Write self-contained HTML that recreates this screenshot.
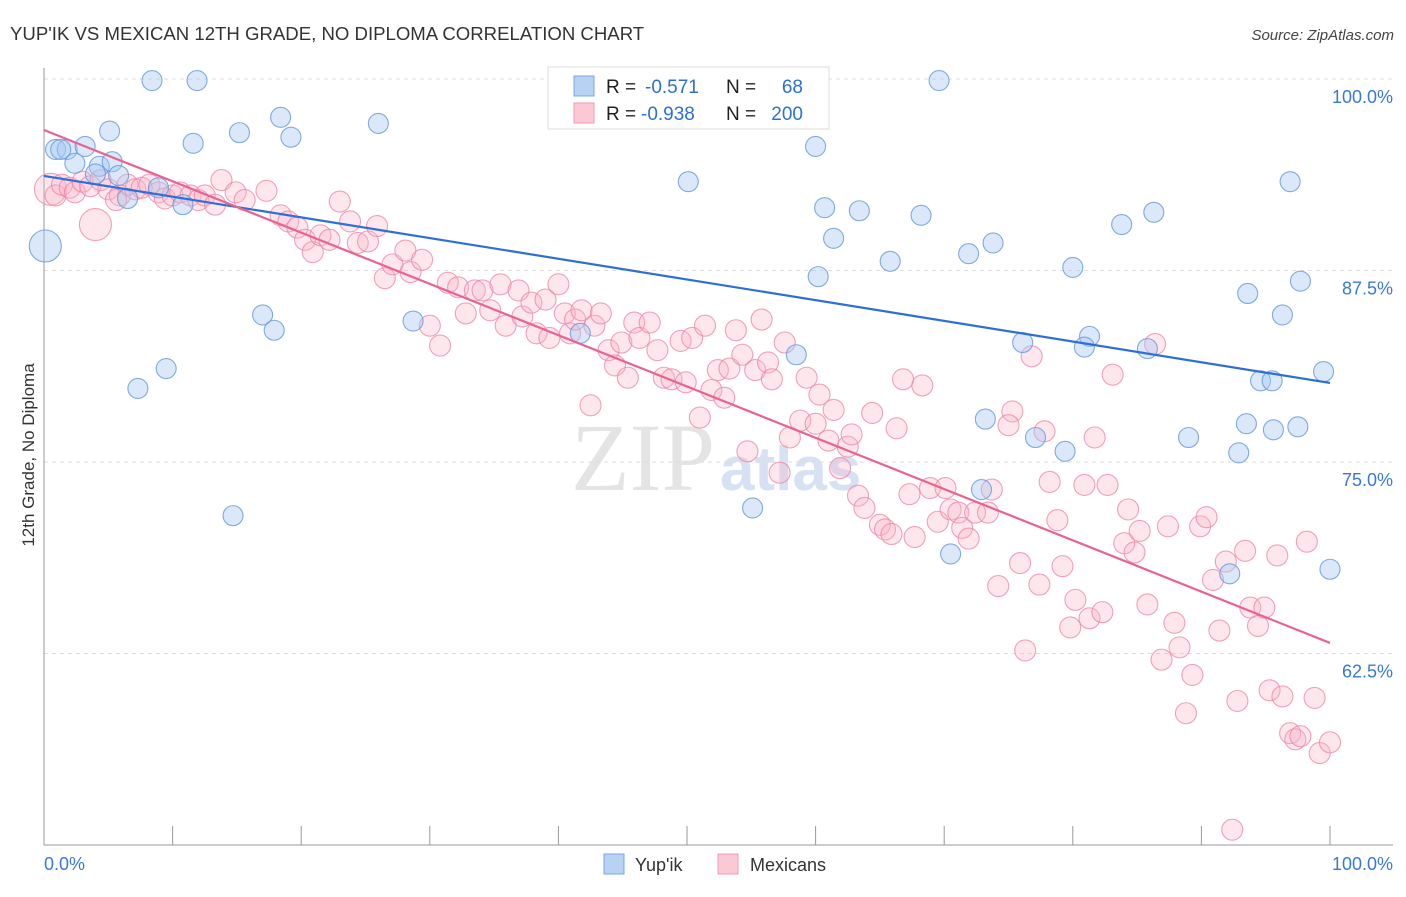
<!DOCTYPE html>
<html><head><meta charset="utf-8"><style>
body{margin:0;background:#fff;font-family:"Liberation Sans",sans-serif}
svg text{font-family:"Liberation Sans",sans-serif}
</style></head><body>
<svg id="chart" width="1406" height="892">
<text x="10" y="40" font-size="18.6" fill="#333">YUP'IK VS MEXICAN 12TH GRADE, NO DIPLOMA CORRELATION CHART</text>
<text x="1394" y="40" font-size="15" fill="#444" font-style="italic" text-anchor="end">Source: ZipAtlas.com</text>
<text x="0" y="0" transform="translate(34,455) rotate(-90)" font-size="17" fill="#333" text-anchor="middle">12th Grade, No Diploma</text>
<g><text x="715" y="490" font-size="96" fill="#e4e4e4" text-anchor="end" style="font-family:'Liberation Serif',serif">ZIP</text><text x="720" y="490" font-size="62" fill="#d6e2f3" font-weight="bold">atlas</text></g>
<g id="grid"></g><g id="axes"></g><g id="pts"></g><g id="trends"></g>
<g>
<rect x="548" y="67" width="281" height="62" fill="#fff" stroke="#ddd"/>
<rect x="574" y="76" width="20" height="20" fill="#b8d2f4" stroke="#7aa7e4"/>
<rect x="574" y="103" width="20" height="20" fill="#fbc8d6" stroke="#f09ab2"/>
<text x="606" y="93" font-size="19" fill="#222">R = </text><text x="645" y="93" font-size="19" fill="#2d6fd6">-0.571</text><text x="726" y="93" font-size="19" fill="#222">N = </text><text x="803" y="93" font-size="19" fill="#2d6fd6" text-anchor="end">68</text>
<text x="606" y="120" font-size="19" fill="#222">R = </text><text x="641" y="120" font-size="19" fill="#2d6fd6">-0.938</text><text x="726" y="120" font-size="19" fill="#222">N = </text><text x="803" y="120" font-size="19" fill="#2d6fd6" text-anchor="end">200</text>
</g>
<g>
<rect x="604" y="854" width="20" height="20" fill="#b8d2f4" stroke="#7aa7e4"/>
<text x="635" y="871" font-size="18" fill="#333">Yup'ik</text>
<rect x="718" y="854" width="20" height="20" fill="#fbc8d6" stroke="#f09ab2"/>
<text x="750" y="871" font-size="18" fill="#333">Mexicans</text>
</g>
</svg>
<script>
const yTicks=[100,87.5,75,62.5];
const yTickLabels=["100.0%","87.5%","75.0%","62.5%"];
const xTickLabels=["0.0%","100.0%"];
const blueX=[8.4,11.9,69.6,5.1,15.2,18.4,19.2,26.0,11.6,0.9,1.8,3.2,2.4,4.3,5.3,4.0,5.8,6.5,8.9,10.8,60.0,50.1,96.9,60.7,63.4,68.2,86.3,83.8,61.4,73.8,71.9,65.8,60.2,80.0,97.7,93.6,96.3,17.0,17.9,28.7,41.7,76.1,81.3,80.9,85.8,58.5,9.5,7.3,94.6,95.5,99.5,73.2,93.5,95.6,97.5,77.1,89.0,79.4,92.9,14.7,55.1,72.9,70.5,92.2,100,0.1,1.3];
const blueY=[99.9,99.9,99.9,96.6,96.5,97.5,96.2,97.1,95.8,95.4,95.4,95.6,94.5,94.3,94.6,93.8,93.7,92.2,92.9,91.8,95.6,93.3,93.3,91.6,91.4,91.1,91.3,90.5,89.6,89.3,88.6,88.1,87.1,87.7,86.8,86.0,84.6,84.6,83.6,84.2,83.4,82.8,83.2,82.5,82.4,82.0,81.1,79.8,80.3,80.3,80.9,77.8,77.5,77.1,77.3,76.6,76.6,75.7,75.6,71.5,72.0,73.2,69.0,67.7,68.0,89.1,95.4];
const pinkX=[0.5,0.9,1.4,2.0,2.4,3.0,3.6,4.4,5.0,5.9,6.5,7.1,7.6,8.2,8.9,9.4,10.0,10.6,11.4,12.0,12.5,13.3,13.8,14.9,15.6,17.3,4.0,5.6,18.4,19.0,19.7,20.3,20.9,21.5,22.2,23.0,23.8,24.4,25.2,25.9,26.5,27.1,28.1,28.5,29.4,30.0,30.8,31.4,32.2,32.8,33.5,34.1,34.7,35.5,35.9,36.9,37.2,37.9,38.3,39.0,39.3,40.0,40.5,40.9,41.3,41.8,42.5,42.8,43.3,43.9,44.4,44.9,45.4,45.9,46.3,47.1,47.7,48.2,48.8,49.5,49.9,50.4,51.0,51.4,51.9,52.4,52.9,53.3,53.8,54.3,54.7,55.3,55.8,56.3,56.6,57.2,57.6,58.0,58.8,59.3,60.0,60.3,61.0,61.4,61.9,62.5,62.8,63.3,63.8,64.4,65.0,65.4,65.9,66.3,66.8,67.3,67.7,68.3,68.9,69.5,70.1,70.5,71.1,71.4,71.9,72.4,73.4,73.7,74.2,75.3,75.9,76.3,76.8,77.4,77.8,78.2,78.8,79.2,79.8,80.2,80.9,81.3,81.7,82.3,82.7,83.1,84.0,84.3,84.8,85.2,85.8,86.4,86.9,87.4,87.9,88.3,88.8,89.3,89.9,90.4,90.9,91.4,91.9,92.4,92.8,93.4,93.8,94.4,94.9,95.3,95.9,96.3,96.9,97.3,97.7,98.2,98.8,99.2,100,75.0];
const pinkY=[92.8,92.4,93.1,92.9,92.6,93.3,93.0,93.4,92.8,92.4,93.1,92.8,92.9,93.1,92.6,92.2,92.4,92.6,92.4,92.1,92.4,91.8,93.4,92.6,92.1,92.7,90.5,92.1,91.1,90.7,90.3,89.5,88.7,89.8,89.5,92.0,90.7,89.3,89.4,90.4,87.0,87.9,88.8,87.4,88.2,83.9,82.6,86.7,86.4,84.7,86.2,86.2,84.9,86.6,83.9,86.2,84.5,85.4,83.4,85.6,83.1,86.6,84.7,83.4,84.3,84.9,78.7,83.9,84.7,82.3,81.3,82.8,80.5,84.1,83.1,84.1,82.3,80.5,80.4,82.9,80.2,83.1,77.9,83.9,79.7,81.0,79.2,81.1,83.6,82.0,75.7,81.0,84.3,81.5,80.4,74.3,82.8,76.6,77.7,80.5,77.5,79.4,76.4,78.4,74.6,76.0,76.8,72.8,72.0,78.2,70.9,70.6,70.3,77.2,80.4,72.9,70.1,80.0,73.3,71.1,73.3,71.9,71.7,70.7,70.0,71.7,71.7,73.2,66.9,78.3,68.4,62.7,81.9,67.0,77.0,73.7,71.2,68.2,64.2,66.0,73.5,64.8,76.6,65.2,73.5,80.7,69.7,71.9,69.1,70.5,65.7,82.7,62.1,70.8,64.5,62.9,58.6,61.1,70.8,71.4,67.3,64.0,68.5,51.0,59.4,69.2,65.5,64.3,65.5,60.1,68.9,59.7,57.3,56.9,57.1,69.8,59.6,56.0,56.7,77.4];
const blueTrend=[93.67,80.16];
const pinkTrend=[96.67,63.19];
const NS="http://www.w3.org/2000/svg";
const X0=44,X1=1330,Y100=79,PX=15.32;
const sx=v=>X0+(X1-X0)*v/100;
const sy=v=>Y100+(100-v)*PX;
function mk(t,a,p){const e=document.createElementNS(NS,t);for(const k in a)e.setAttribute(k,a[k]);p.appendChild(e);return e;}
const grid=document.getElementById('grid'),axes=document.getElementById('axes'),pts=document.getElementById('pts'),tr=document.getElementById('trends');
yTicks.forEach((v,i)=>{
 const l=mk('line',{x1:44,x2:1393,y1:sy(v),y2:sy(v),stroke:'#ddd','stroke-dasharray':'4,4'},grid);
 
 
 const t=mk('text',{x:1393,y:sy(v)+24,'font-size':18,fill:'#3a78d8','text-anchor':'end'},axes);
 t.textContent=yTickLabels[i];
 
 
});
const ya=mk('line',{x1:44,x2:44,y1:68,y2:845,stroke:'#999'},axes);


const xa=mk('line',{x1:44,x2:1393,y1:845,y2:845,stroke:'#999'},axes);


for(let i=0;i<=10;i++){const tk=mk('line',{x1:sx(i*10),x2:sx(i*10),y1:826,y2:845,stroke:'#999'},axes);
 
 }
[[0,'start',44],[1,'end',1393]].forEach(([i,a,x])=>{const t=mk('text',{x:x,y:870,'font-size':18,fill:'#3a78d8','text-anchor':a},axes);t.textContent=xTickLabels[i];
 
 });
pinkX.forEach((v,i)=>{const big=i===0||i===26;const c=mk('circle',{cx:sx(v),cy:sy(pinkY[i]),r:big?16:10.5,fill:'rgba(248,180,200,0.32)',stroke:'rgba(238,130,165,0.75)','stroke-width':1.1},pts);
 
 });
blueX.forEach((v,i)=>{const big=i===65;const c=mk('circle',{cx:sx(v),cy:sy(blueY[i]),r:big?16:10,fill:'rgba(168,200,240,0.42)',stroke:'rgba(100,150,220,0.8)','stroke-width':1.1},pts);
 
 });
const lb=mk('line',{x1:sx(0),y1:sy(blueTrend[0]),x2:sx(100),y2:sy(blueTrend[1]),stroke:'#2d6fd6','stroke-width':2.2},tr);


const lp=mk('line',{x1:sx(0),y1:sy(pinkTrend[0]),x2:sx(100),y2:sy(pinkTrend[1]),stroke:'#e8638f','stroke-width':2.2},tr);


</script>
</body></html>
